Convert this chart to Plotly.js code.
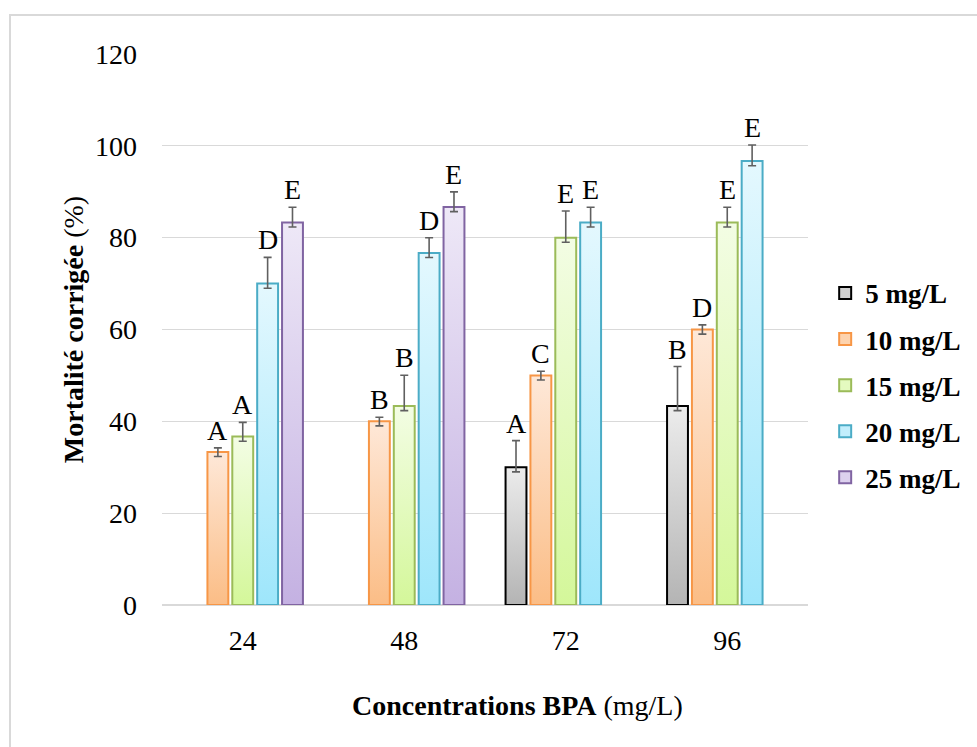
<!DOCTYPE html>
<html>
<head>
<meta charset="utf-8">
<script src="https://cdn.plot.ly/plotly-3.0.1.min.js"></script>
<style>
  html, body { margin: 0; padding: 0; background: #fff; overflow: hidden; }
  #chart { position: absolute; left: 0; top: 0; width: 977px; height: 747px; }
  #frame { position: absolute; left: 9px; top: 14px; width: 1000px; height: 800px;
           border: 2px solid #d9d9d9; pointer-events: none; }
</style>
</head>
<body>
<div id="chart"></div>
<div id="frame"></div>
<script>
// ---- data ----
const categories = ["24", "48", "72", "96"];
const seriesNames = ["5 mg/L", "10 mg/L", "15 mg/L", "20 mg/L", "25 mg/L"];
const mort5  = [null, null, 30.00, 43.33];
const mort10 = [33.33, 40.00, 50.00, 60.00];
const mort15 = [36.67, 43.33, 80.00, 83.33];
const mort20 = [70.00, 76.67, 83.33, 96.67];
const mort25 = [83.33, 86.67, null, null];
const errPlus5  = [0, 0, 5.8, 8.6];
const errPlus10 = [0.9, 0.9, 0.9, 1.0];
const errPlus15 = [3.1, 6.7, 5.8, 3.3];
const errPlus20 = [5.7, 3.3, 3.3, 3.5];
const errPlus25 = [3.3, 3.3, 0, 0];
const errMinus = [1, 1, 1, 1];
const letters5  = ["", "", "A", "B"];
const letters10 = ["A", "B", "C", "D"];
const letters15 = ["A", "B", "E", "E"];
const letters20 = ["D", "D", "E", "E"];
const letters25 = ["E", "E", "", ""];
const yTicks = [0, 20, 40, 60, 80, 100, 120];
const xTitle = "<b>Concentrations BPA</b> (mg/L)";
const yTitle = "<b>Mortalité corrigée</b> (%)";

const values = [mort5, mort10, mort15, mort20, mort25];
const plus = [errPlus5, errPlus10, errPlus15, errPlus20, errPlus25];
const letters = [letters5, letters10, letters15, letters20, letters25];

// ---- styles ----
const borderCols = ["#000000", "#f79646", "#9bbb59", "#4bacc6", "#8064a2"];
const midCols = ["#d0d0d0", "#fdd3ae", "#e4fabf", "#c2eefc", "#dcd0ee"];
const gradTop = ["#ececec", "#fee8d8", "#f3fde4", "#e4f8fe", "#eee8f7"];
const gradBot = ["#b4b4b4", "#fbbd86", "#d4f79a", "#9ee6fb", "#c4b1e2"];

const font = "Liberation Serif";
const fs = 28;
const bargap = 0.23, bargroupgap = 0.16;

const traces = values.map((v, k) => ({
  type: "bar",
  name: seriesNames[k],
  x: categories,
  y: v,
  legendgroup: "g" + k,
  marker: { color: midCols[k], line: { color: borderCols[k], width: 2 } },
  error_y: {
    type: "data", symmetric: false,
    array: plus[k], arrayminus: errMinus,
    color: "#606060", thickness: 1.6, width: 4
  },
  hoverinfo: "x+y+name"
}));

// letter annotations above error bars
const nSeries = values.length;
const slot = (1 - bargap) / nSeries;
const annotations = [];
values.forEach((v, k) => {
  v.forEach((val, i) => {
    if (val === null || !letters[k][i]) return;
    annotations.push({
      x: i + (k - (nSeries - 1) / 2) * slot,
      y: val + plus[k][i],
      xref: "x", yref: "y",
      text: letters[k][i],
      showarrow: false,
      yanchor: "bottom",
      yshift: 0,
      font: { family: font, size: fs, color: "#000" }
    });
  });
});
// x-axis title (centred on the chart area, as in the original)
annotations.push({
  x: 0.55, y: 0, xref: "paper", yref: "paper",
  yanchor: "middle", yshift: -100,
  text: xTitle, showarrow: false,
  font: { family: font, size: fs, color: "#000" }
});

const layout = {
  width: 977, height: 747,
  paper_bgcolor: "#ffffff", plot_bgcolor: "#ffffff",
  margin: { l: 162, r: 168, t: 54, b: 142 },
  barmode: "group",
  bargap: bargap, bargroupgap: bargroupgap,
  font: { family: font, size: fs, color: "#000" },
  xaxis: {
    type: "category",
    showgrid: false, showline: false, zeroline: false,
    ticks: "", tickfont: { family: font, size: fs }, ticklabelstandoff: 16
  },
  yaxis: {
    range: [0, 120], tickvals: yTicks, ticks: "",
    showgrid: true, gridcolor: "#d9d9d9", gridwidth: 1,
    zeroline: true, zerolinecolor: "#d9d9d9", zerolinewidth: 2,
    showline: false, tickfont: { family: font, size: fs }, ticklabelstandoff: 24,
    title: { text: yTitle, font: { family: font, size: fs }, standoff: 3 }
  },
  legend: {
    x: 1.025, xanchor: "left", y: 0.61, yanchor: "top",
    font: { family: font, size: 27, color: "#000", weight: "bold" },
    tracegroupgap: 8, itemwidth: 30,
    bgcolor: "rgba(0,0,0,0)"
  },
  annotations: annotations,
  showlegend: true
};

Plotly.newPlot("chart", traces, layout, { displayModeBar: false, staticPlot: true }).then(gd => {
  // vertical gradients on bars, Excel-like
  const svg = gd.querySelector("svg.main-svg");
  const ns = "http://www.w3.org/2000/svg";
  let defs = svg.querySelector("defs");
  if (!defs) { defs = document.createElementNS(ns, "defs"); svg.insertBefore(defs, svg.firstChild); }
  gradTop.forEach((c, k) => {
    const lg = document.createElementNS(ns, "linearGradient");
    lg.setAttribute("id", "barGrad" + k);
    lg.setAttribute("x1", "0"); lg.setAttribute("y1", "0");
    lg.setAttribute("x2", "0"); lg.setAttribute("y2", "1");
    const s1 = document.createElementNS(ns, "stop");
    s1.setAttribute("offset", "0"); s1.setAttribute("stop-color", gradTop[k]);
    const s2 = document.createElementNS(ns, "stop");
    s2.setAttribute("offset", "1"); s2.setAttribute("stop-color", gradBot[k]);
    lg.appendChild(s1); lg.appendChild(s2); defs.appendChild(lg);
  });
  gd.querySelectorAll(".barlayer .trace.bars").forEach((tr, k) => {
    tr.querySelectorAll(".point path").forEach(p => {
      p.style.fill = "url(#barGrad" + k + ")";
    });
  });
});
</script>
</body>
</html>
